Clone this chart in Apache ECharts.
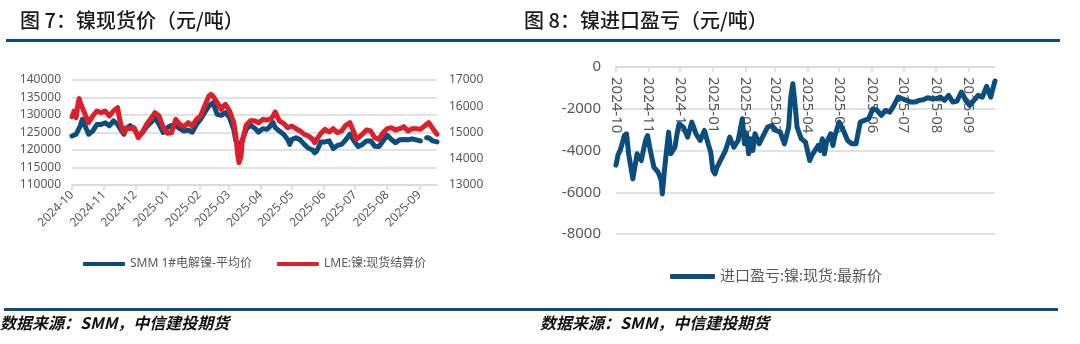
<!DOCTYPE html>
<html>
<head>
<meta charset="utf-8">
<script src="https://cdn.jsdelivr.net/npm/echarts@6/dist/echarts.min.js"></script>
<style>
  html, body { margin: 0; padding: 0; background: #fff; }
  #wrap { position: relative; width: 1080px; height: 344px; overflow: hidden; }
  #chart { position: absolute; left: 0; top: 0; width: 1080px; height: 344px; }
  .title { position: absolute; top: 10px; line-height: 20px; font-size: 20px; font-weight: 500;
           font-family: "Noto Sans CJK SC", sans-serif; color: #1a1a1a; white-space: nowrap; }
  .rule { position: absolute; height: 3px; background: #0f4c7d; }
  .source { position: absolute; top: 314px; line-height: 16px; font-size: 16px; font-weight: 700; font-style: italic;
            font-family: "Noto Sans CJK SC", sans-serif; color: #111; white-space: nowrap; }
</style>
</head>
<body>
<div id="wrap">
  <div id="chart"></div>
  <div class="title" style="left:20px">图 7：镍现货价（元/吨）</div>
  <div class="title" style="left:524px">图 8：镍进口盈亏（元/吨）</div>
  <div class="rule" style="left:6px;width:1054px;top:39px"></div>
  <div class="rule" style="left:4px;width:1054px;top:308px"></div>
  <div class="source" style="left:0px">数据来源：SMM，中信建投期货</div>
  <div class="source" style="left:540px">数据来源：SMM，中信建投期货</div>
</div>
<script>
// SMM 1# electrolytic nickel, average price (CNY/t), left axis
const smmDates = [
  '2024-10-01','2024-10-05','2024-10-09','2024-10-11','2024-10-13','2024-10-17','2024-10-21','2024-10-25','2024-10-29',
  '2024-11-02','2024-11-06','2024-11-10','2024-11-14','2024-11-18','2024-11-20','2024-11-22','2024-11-26','2024-11-30',
  '2024-12-04','2024-12-08','2024-12-12','2024-12-16','2024-12-20','2024-12-24','2024-12-28',
  '2025-01-01','2025-01-05','2025-01-09','2025-01-13','2025-01-17','2025-01-21','2025-01-25','2025-01-29',
  '2025-02-02','2025-02-06','2025-02-10','2025-02-14','2025-02-18','2025-02-22','2025-02-26',
  '2025-03-02','2025-03-06','2025-03-08','2025-03-10','2025-03-14','2025-03-18','2025-03-22','2025-03-26','2025-03-30',
  '2025-04-03','2025-04-07','2025-04-09','2025-04-11','2025-04-13','2025-04-15','2025-04-19','2025-04-23','2025-04-27','2025-04-29',
  '2025-05-01','2025-05-05','2025-05-09','2025-05-13','2025-05-17','2025-05-21','2025-05-23','2025-05-25','2025-05-29',
  '2025-06-02','2025-06-06','2025-06-10','2025-06-14','2025-06-18','2025-06-22','2025-06-26','2025-06-30',
  '2025-07-04','2025-07-08','2025-07-12','2025-07-16','2025-07-20','2025-07-24','2025-07-28',
  '2025-08-01','2025-08-05','2025-08-09','2025-08-13','2025-08-17','2025-08-21','2025-08-25','2025-08-29',
  '2025-09-02','2025-09-05','2025-09-08','2025-09-10','2025-09-14','2025-09-18'
];
const smmPrice = [
  124000,124500,126900,128800,127300,124500,125400,127300,127300,
  127800,126900,128300,127300,125400,124500,125900,127000,125900,
  124000,125000,126700,127800,129200,127300,125000,
  126400,127000,127000,126100,125400,125700,125100,127300,
  128800,130700,132600,133500,130200,129900,130700,
  129200,125900,122600,121000,122600,125900,127100,126300,125100,
  126100,125900,126400,127300,127800,126400,125400,124500,123000,121600,
  123000,123500,122900,121600,120500,120000,119200,119700,122300,
  122300,122600,120400,121300,121600,122900,124500,122600,
  121000,121600,122600,122600,121100,121000,122600,
  124200,123000,122100,122900,123000,122900,123200,122900,
  122600,null,123500,123500,122600,122300
];

// LME nickel cash settlement (USD/t), right axis
const lmeDates = [
  '2024-10-01','2024-10-03','2024-10-05','2024-10-07','2024-10-08','2024-10-09','2024-10-11','2024-10-13','2024-10-15','2024-10-17',
  '2024-10-21','2024-10-25','2024-10-29',
  '2024-11-02','2024-11-06','2024-11-10','2024-11-14','2024-11-16','2024-11-18','2024-11-20','2024-11-22','2024-11-26','2024-11-30',
  '2024-12-04','2024-12-08','2024-12-12','2024-12-16','2024-12-20','2024-12-24','2024-12-28',
  '2025-01-01','2025-01-05','2025-01-09','2025-01-13','2025-01-17','2025-01-21','2025-01-25','2025-01-29',
  '2025-02-02','2025-02-06','2025-02-10','2025-02-12','2025-02-14','2025-02-18','2025-02-22','2025-02-24','2025-02-26',
  '2025-03-02','2025-03-06','2025-03-08','2025-03-10','2025-03-11','2025-03-13','2025-03-14','2025-03-18','2025-03-22','2025-03-26','2025-03-30',
  '2025-04-03','2025-04-07','2025-04-11','2025-04-13','2025-04-15','2025-04-19','2025-04-23','2025-04-27',
  '2025-05-01','2025-05-05','2025-05-09','2025-05-13','2025-05-17','2025-05-21','2025-05-23','2025-05-25','2025-05-29',
  '2025-06-02','2025-06-06','2025-06-10','2025-06-14','2025-06-18','2025-06-22','2025-06-26','2025-06-30',
  '2025-07-02','2025-07-04','2025-07-08','2025-07-12','2025-07-16','2025-07-20','2025-07-24','2025-07-28',
  '2025-08-01','2025-08-05','2025-08-09','2025-08-13','2025-08-17','2025-08-21','2025-08-25','2025-08-29',
  '2025-09-02','2025-09-06','2025-09-10','2025-09-14','2025-09-18'
];
const lmePrice = [
  15600,15820,15565,16136,16290,16136,15945,15755,15565,15374,
  15628,15820,15755,
  15820,15628,15820,15946,15500,15184,14993,15184,15145,15184,
  14803,15019,15311,15527,15755,15628,15184,
  14968,14993,15500,15311,15222,15374,15247,15500,
  15628,16010,16390,16450,16390,16136,15882,16010,16073,
  15820,15374,14866,14100,13850,14100,14612,15280,15450,15450,15374,
  15500,15476,15527,15628,15780,15438,15349,15184,
  15247,15145,15057,14930,14866,14740,14612,14740,14968,
  15120,15019,15145,14993,15057,15273,15374,14993,
  14740,14803,14930,15095,15057,14800,14740,14993,
  15145,15184,15095,15145,15222,15057,15145,15145,
  15120,15247,15374,15145,14930
];

// Nickel spot import profit/loss (CNY/t)
const profitDates = [
  '2024-10-01','2024-10-03','2024-10-05','2024-10-09','2024-10-11','2024-10-13','2024-10-17','2024-10-21','2024-10-25','2024-10-29','2024-10-31',
  '2024-11-02','2024-11-06','2024-11-10','2024-11-13','2024-11-14','2024-11-16','2024-11-18','2024-11-20','2024-11-22','2024-11-26','2024-11-28','2024-11-30',
  '2024-12-04','2024-12-08','2024-12-12','2024-12-16','2024-12-20','2024-12-24','2024-12-28','2024-12-30',
  '2025-01-01','2025-01-03','2025-01-05','2025-01-09','2025-01-13','2025-01-17','2025-01-21','2025-01-25','2025-01-29','2025-01-31',
  '2025-02-02','2025-02-04','2025-02-06','2025-02-08','2025-02-10','2025-02-14','2025-02-18','2025-02-22','2025-02-26',
  '2025-03-02','2025-03-06','2025-03-10','2025-03-14','2025-03-16','2025-03-18','2025-03-20','2025-03-22','2025-03-26','2025-03-30',
  '2025-04-03','2025-04-05','2025-04-07','2025-04-11','2025-04-13','2025-04-15','2025-04-17','2025-04-19','2025-04-23','2025-04-25','2025-04-27',
  '2025-05-01','2025-05-05','2025-05-09','2025-05-13','2025-05-17','2025-05-21','2025-05-25','2025-05-29',
  '2025-06-02','2025-06-06','2025-06-10','2025-06-14','2025-06-18','2025-06-22','2025-06-26','2025-06-30',
  '2025-07-04','2025-07-08','2025-07-12','2025-07-16','2025-07-20','2025-07-24','2025-07-28',
  '2025-08-01','2025-08-05','2025-08-09','2025-08-13','2025-08-17','2025-08-21','2025-08-25','2025-08-27','2025-08-29',
  '2025-09-02','2025-09-06','2025-09-10','2025-09-14','2025-09-18','2025-09-22','2025-09-24','2025-09-26'
];
const profitValue = [
  -4700,-4200,-4000,-3280,-3200,-4160,-5360,-4160,-4480,-3520,-3280,
  -3840,-4800,-5040,-5440,-6080,-4960,-4000,-3120,-4160,-3840,-3200,-2720,
  -2880,-3360,-2640,-3200,-3520,-3040,-3760,-4080,
  -4960,-5120,-4800,-4400,-4000,-3360,-3840,-3520,-2480,-3680,
  -3200,-4160,-3440,-4000,-3200,-3680,-3280,-2880,-2800,
  -3040,-3120,-3680,-2880,-1440,-800,-1760,-2880,-3440,-3600,
  -4480,-4240,-4080,-3760,-4000,-3440,-4160,-3600,-3200,-3760,-3280,
  -2640,-3040,-3520,-3680,-3680,-2640,-2560,-2480,
  -2000,-2080,-2320,-2080,-2160,-1840,-1440,-1520,
  -1600,-1680,-1680,-1600,-1570,-1470,-1520,
  -1520,-1440,-1600,-1360,-1680,-1630,-1200,-1360,-1600,
  -1840,-1600,-1360,-1440,-930,-1440,-1040,-670
];

const seriesNames = ['SMM 1#电解镍-平均价', 'LME:镍:现货结算价', '进口盈亏:镍:现货:最新价'];

const FONT = '"Noto Sans", "Noto Sans CJK SC", sans-serif';
const LABEL = '#595959';
const GRID = '#d9d9d9';
const BLUE = '#0b4d7d';
const RED = '#dc1f2a';
const DAY = 24 * 3600 * 1000;

function monthLabel(v) {
  const d = new Date(v);
  return d.getFullYear() + '-' + String(d.getMonth() + 1).padStart(2, '0');
}
const plain = v => String(v);
const pairs = (dates, vals) => dates.map((d, i) => [d, vals[i]]);

const chart = echarts.init(document.getElementById('chart'), null, { renderer: 'canvas' });
chart.setOption({
  animation: false,
  backgroundColor: '#fff',
  textStyle: { fontFamily: FONT },
  grid: [
    { left: 72, top: 80, width: 365, height: 105, containLabel: false },
    { left: 616, top: 67, width: 379, height: 167, containLabel: false }
  ],
  legend: [
    {
      data: [seriesNames[0], seriesNames[1]],
      left: 83, top: 258, padding: 0,
      icon: 'roundRect', itemWidth: 42, itemHeight: 4, itemGap: 25,
      textStyle: { fontSize: 12, color: LABEL, fontFamily: FONT }
    },
    {
      data: [seriesNames[2]],
      left: 670, top: 269, padding: 0,
      icon: 'roundRect', itemWidth: 45, itemHeight: 5,
      textStyle: { fontSize: 15, color: LABEL, fontFamily: FONT }
    }
  ],
  xAxis: [
    {
      type: 'time', gridIndex: 0,
      min: '2024-10-01', max: '2025-09-18',
      minInterval: 28 * DAY, maxInterval: 31 * DAY,
      axisLine: { lineStyle: { color: GRID, width: 1.5 } },
      axisTick: { show: true, length: 5, lineStyle: { color: GRID, width: 1.5 } },
      splitLine: { show: false },
      axisLabel: {
        rotate: 45, margin: 8, fontSize: 12, color: LABEL, fontFamily: FONT,
        formatter: monthLabel, showMaxLabel: false, hideOverlap: false
      }
    },
    {
      // month axis runs along the zero line at the top of the loss chart
      type: 'time', gridIndex: 1, position: 'top',
      min: '2024-10-01', max: '2025-09-26',
      minInterval: 28 * DAY, maxInterval: 31 * DAY,
      axisLine: { onZero: false, lineStyle: { color: GRID, width: 1.5 } },
      axisTick: { show: true, inside: true, length: 5, lineStyle: { color: GRID, width: 1.5 } },
      splitLine: { show: false },
      axisLabel: {
        inside: true, rotate: 90, margin: 10, fontSize: 15, color: LABEL, fontFamily: FONT,
        formatter: monthLabel, showMaxLabel: false, hideOverlap: false
      }
    }
  ],
  yAxis: [
    {
      type: 'value', gridIndex: 0, min: 110000, max: 140000, interval: 5000,
      axisLine: { show: false }, axisTick: { show: false },
      splitLine: { lineStyle: { color: GRID, width: 1.5 } },
      axisLabel: { margin: 11, fontSize: 12, color: LABEL, fontFamily: FONT, formatter: plain }
    },
    {
      type: 'value', gridIndex: 0, position: 'right', min: 13000, max: 17000, interval: 1000,
      axisLine: { show: false }, axisTick: { show: false }, splitLine: { show: false },
      axisLabel: { margin: 12, fontSize: 12, color: LABEL, fontFamily: FONT, formatter: plain }
    },
    {
      type: 'value', gridIndex: 1, min: -8000, max: 0, interval: 2000,
      axisLine: { show: false }, axisTick: { show: false },
      splitLine: { lineStyle: { color: GRID, width: 1.5 } },
      axisLabel: { margin: 15, fontSize: 15, color: LABEL, fontFamily: FONT, formatter: plain }
    }
  ],
  series: [
    {
      name: seriesNames[0], type: 'line', xAxisIndex: 0, yAxisIndex: 0,
      data: pairs(smmDates, smmPrice), connectNulls: false,
      showSymbol: false, symbol: 'none', color: BLUE,
      lineStyle: { width: 5, color: BLUE, join: 'round', cap: 'round' }, z: 2
    },
    {
      name: seriesNames[1], type: 'line', xAxisIndex: 0, yAxisIndex: 1,
      data: pairs(lmeDates, lmePrice),
      showSymbol: false, symbol: 'none', color: RED,
      lineStyle: { width: 5, color: RED, join: 'round', cap: 'round' }, z: 3
    },
    {
      name: seriesNames[2], type: 'line', xAxisIndex: 1, yAxisIndex: 2,
      data: pairs(profitDates, profitValue),
      showSymbol: false, symbol: 'none', color: BLUE,
      lineStyle: { width: 5, color: BLUE, join: 'round', cap: 'round' }, z: 2
    }
  ]
});
</script>
</body>
</html>
